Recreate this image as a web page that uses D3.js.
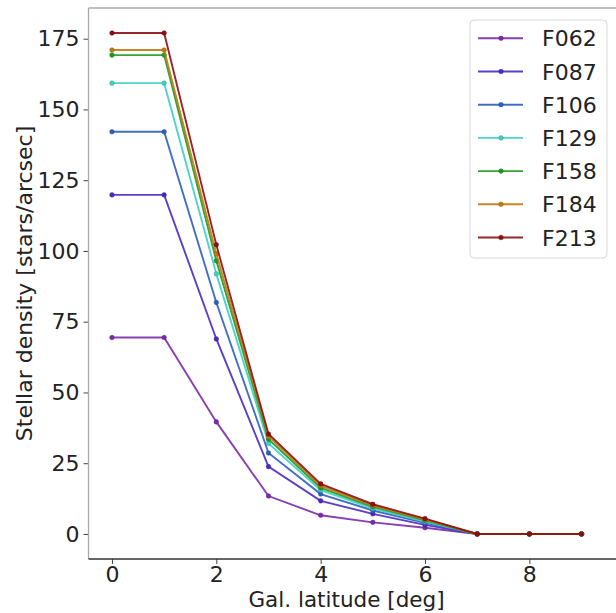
<!DOCTYPE html>
<html>
<head>
<meta charset="utf-8">
<script src="https://cdn.jsdelivr.net/npm/d3@7"></script>
<style>
html,body{margin:0;padding:0;background:#fff;}
svg{display:block;font-family:"DejaVu Sans",sans-serif;}
</style>
</head>
<body>
<svg id="chart" width="616" height="613"></svg>
<script>
const latitude = [0, 1, 2, 3, 4, 5, 6, 7, 8, 9];
const filters = ["F062", "F087", "F106", "F129", "F158", "F184", "F213"];
const F062 = [69.4, 69.4, 39.6, 13.4, 6.6, 4.1, 2.2, 0, 0, 0];
const F087 = [119.8, 119.8, 68.9, 23.8, 11.7, 7.1, 3.2, 0, 0, 0];
const F106 = [142.1, 142.1, 81.8, 28.6, 14.1, 8.3, 3.9, 0, 0, 0];
const F129 = [159.3, 159.3, 91.9, 32.0, 15.5, 9.0, 4.4, 0, 0, 0];
const F158 = [169.2, 169.2, 96.5, 33.5, 16.3, 9.6, 4.8, 0, 0, 0];
const F184 = [171.0, 171.0, 99.0, 34.5, 17.0, 10.0, 5.1, 0, 0, 0];
const F213 = [177.0, 177.0, 102.2, 35.3, 17.7, 10.5, 5.4, 0, 0, 0];
const seriesValues = [F062, F087, F106, F129, F158, F184, F213];
const colors = ["#7a2aa8", "#4a2ac0", "#2c5fbf", "#3ccfc4", "#1e9a1e", "#c07a10", "#8b1010"];
const xTicks = [0, 2, 4, 6, 8];
const yTicks = [0, 25, 50, 75, 100, 125, 150, 175];
const xLabel = "Gal. latitude [deg]";
const yLabel = "Stellar density [stars/arcsec]";

const svg = d3.select("#chart");
const L = 88.5, R = 617, T = 8, B = 559;
const x = d3.scaleLinear().domain([-0.45, 9.68]).range([L, R]);
const y = d3.scaleLinear().domain([-8.85, 185.85]).range([B, T]);
const fs = 22;

// axes
const xAxis = svg.append("g").attr("transform", `translate(0,${B})`)
  .call(d3.axisBottom(x).tickValues(xTicks).tickFormat(d3.format("d")).tickSize(5).tickPadding(2));
const yAxis = svg.append("g").attr("transform", `translate(${L},0)`)
  .call(d3.axisLeft(y).tickValues(yTicks).tickFormat(d3.format("d")).tickSize(5).tickPadding(4));
[xAxis, yAxis].forEach(a => {
  a.select(".domain").remove();
  a.selectAll("text").attr("font-size", fs).attr("font-family", "DejaVu Sans").attr("fill", "#222");
  a.selectAll("line").attr("stroke", "#444").attr("stroke-width", 1);
});

// spines
svg.append("line").attr("x1", L).attr("x2", L).attr("y1", T).attr("y2", B).attr("stroke", "#a8a8a8").attr("stroke-width", 1.3);
svg.append("line").attr("x1", L).attr("x2", R).attr("y1", T).attr("y2", T).attr("stroke", "#a8a8a8").attr("stroke-width", 1.3);
svg.append("line").attr("x1", L).attr("x2", R).attr("y1", B).attr("y2", B).attr("stroke", "#333").attr("stroke-width", 1.3);

// lines
const line = d3.line().x((d, i) => x(latitude[i])).y(d => y(d));
seriesValues.forEach((vals, k) => {
  const g = svg.append("g");
  g.append("path").datum(vals).attr("d", line).attr("fill", "none")
    .attr("stroke", colors[k]).attr("stroke-width", 1.9).attr("stroke-opacity", 0.9);
  g.selectAll("circle").data(vals).join("circle")
    .attr("cx", (d, i) => x(latitude[i])).attr("cy", d => y(d)).attr("r", 2.3)
    .attr("fill", colors[k]).attr("stroke", d3.color(colors[k]).darker(0.6)).attr("stroke-width", 0.5);
});

// labels
svg.append("text").attr("x", 346.5).attr("y", 607).attr("text-anchor", "middle")
  .attr("font-size", 21.5).attr("fill", "#222").text(xLabel);
svg.append("text").attr("transform", `translate(32,${(T + B) / 2}) rotate(-90)`).attr("text-anchor", "middle")
  .attr("font-size", fs).attr("fill", "#222").text(yLabel);

// legend
const lg = svg.append("g");
lg.append("rect").attr("x", 470).attr("y", 20).attr("width", 137).attr("height", 238).attr("rx", 4)
  .attr("fill", "#fff").attr("fill-opacity", 0.85).attr("stroke", "#d8d8d8").attr("stroke-width", 1);
filters.forEach((name, k) => {
  const yy = 38.3 + k * 33.2;
  lg.append("line").attr("x1", 478).attr("x2", 523).attr("y1", yy).attr("y2", yy)
    .attr("stroke", colors[k]).attr("stroke-width", 1.9).attr("stroke-opacity", 0.9);
  lg.append("circle").attr("cx", 501).attr("cy", yy).attr("r", 2.3).attr("fill", colors[k])
    .attr("stroke", d3.color(colors[k]).darker(0.6)).attr("stroke-width", 0.5);
  lg.append("text").attr("x", 542).attr("y", yy + 8).attr("font-size", fs).attr("fill", "#222").text(name);
});
</script>
</body>
</html>
